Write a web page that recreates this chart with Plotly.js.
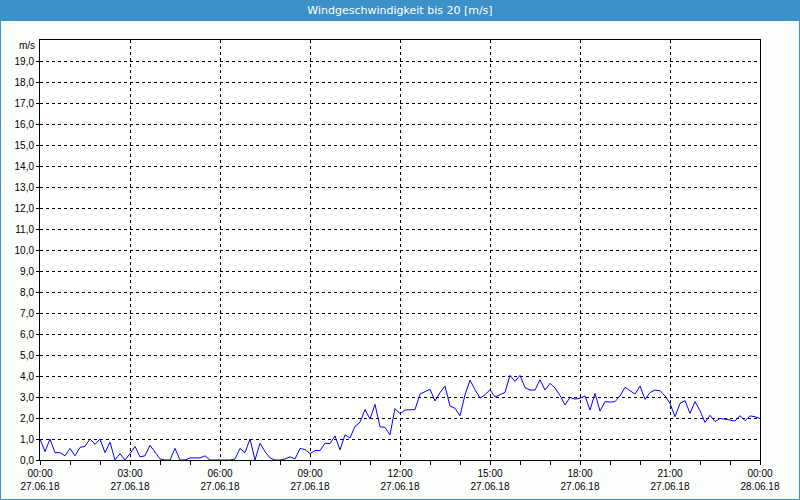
<!DOCTYPE html>
<html><head><meta charset="utf-8">
<script src="https://cdn.plot.ly/plotly-3.0.1.min.js"></script>
<style>html,body{margin:0;padding:0;background:#fcfefc}#chart{width:800px;height:500px}</style>
</head><body><div id="chart"></div>
<script>
// 10-minute wind speed samples, 27.06.18 00:00 .. 28.06.18 00:00 (m/s)
const startTimeUTC = Date.UTC(2018, 5, 27, 0, 0);
const stepMinutes = 10;
const windSpeed = [
  1.0, 0.4, 1.0, 0.35, 0.35, 0.2, 0.55, 0.2, 0.6, 0.65, 1.0, 0.75, 1.0, 0.35, 0.85, 0.0, 0.3, 0.0,
  0.3, 0.65, 0.15, 0.2, 0.7, 0.4, 0.05, 0.0, 0.0, 0.55, 0.0, 0.0, 0.1, 0.1, 0.1, 0.2, 0.0, 0.0,
  0.0, 0.0, 0.0, 0.05, 0.55, 0.35, 1.0, 0.0, 0.8, 0.4, 0.1, 0.0, 0.0, 0.05, 0.15, 0.05, 0.55, 0.5,
  0.3, 0.45, 0.45, 0.8, 0.78, 1.15, 0.48, 1.2, 1.05, 1.6, 1.8, 2.4, 1.95, 2.65, 1.58, 1.55, 1.2, 2.45,
  2.2, 2.38, 2.4, 2.4, 3.14, 3.25, 3.37, 2.81, 3.21, 3.52, 2.57, 2.46, 2.11, 3.1, 3.8, 3.35, 2.95, 3.1,
  3.35, 3.0, 3.1, 3.22, 4.03, 3.74, 4.03, 3.45, 3.33, 3.33, 3.82, 3.33, 3.65, 3.43, 3.07, 2.62, 2.98, 2.9,
  2.94, 3.05, 2.38, 3.17, 2.33, 2.78, 2.76, 2.78, 3.05, 3.46, 3.3, 3.14, 3.52, 2.89, 3.21, 3.33, 3.3, 3.05,
  2.7, 2.06, 2.7, 2.83, 2.22, 2.78, 2.35, 1.79, 2.13, 1.83, 1.98, 1.95, 1.9, 1.86, 2.11, 1.87, 2.1, 2.06, 1.98
];
const xTickVals = ['2018-06-27 00:00','2018-06-27 03:00','2018-06-27 06:00','2018-06-27 09:00','2018-06-27 12:00',
                   '2018-06-27 15:00','2018-06-27 18:00','2018-06-27 21:00','2018-06-28 00:00'];
const xTickText = ['00:00<br>27.06.18','03:00<br>27.06.18','06:00<br>27.06.18','09:00<br>27.06.18','12:00<br>27.06.18',
                   '15:00<br>27.06.18','18:00<br>27.06.18','21:00<br>27.06.18','00:00<br>28.06.18'];
const yTickVals = [0,1,2,3,4,5,6,7,8,9,10,11,12,13,14,15,16,17,18,19];
const yTickText = yTickVals.map(v => v.toFixed(1).replace('.', ','));
const chartTitle = 'Windgeschwindigkeit bis 20 [m/s]';
const unitLabel = 'm/s';

function fmt(ms) { return new Date(ms).toISOString().slice(0, 16).replace('T', ' '); }
const times = windSpeed.map((_, i) => fmt(startTimeUTC + i * stepMinutes * 60000));

const font = {family: 'Liberation Sans, Arial, sans-serif', size: 10, color: '#000'};
const blue = '#3c91c8';

const trace = {x: times, y: windSpeed, type: 'scatter', mode: 'lines',
  line: {color: '#0000ff', width: 1}, hoverinfo: 'x+y'};

const layout = {
  width: 800, height: 500,
  margin: {l: 40, r: 40, t: 40, b: 40, pad: 0},
  paper_bgcolor: '#fcfefc', plot_bgcolor: '#ffffff',
  font: font, showlegend: false,
  title: {text: chartTitle, font: {family: 'DejaVu Sans, sans-serif', size: 11, color: '#ffffff'},
    x: 0.5, xanchor: 'center', y: 0.979, yanchor: 'middle', yref: 'container'},
  xaxis: {type: 'date', range: ['2018-06-27 00:00', '2018-06-28 00:00'],
    tickmode: 'array', tickvals: xTickVals, ticktext: xTickText,
    ticks: 'outside', ticklen: 4, tickcolor: '#000', tickfont: font,
    showgrid: true, gridcolor: '#000', gridwidth: 1, griddash: '3px,3px',
    minor: {dtick: 3600000, ticks: 'outside', ticklen: 4, tickcolor: '#000', showgrid: false},
    showline: true, linecolor: '#000', linewidth: 1, mirror: true, zeroline: false, fixedrange: true},
  yaxis: {range: [0, 20], tickmode: 'array', tickvals: yTickVals, ticktext: yTickText,
    ticks: 'outside', ticklen: 3, tickcolor: '#000', tickfont: font,
    showgrid: true, gridcolor: '#000', gridwidth: 1, griddash: '3px,3px',
    showline: true, linecolor: '#000', linewidth: 1, mirror: true, zeroline: false, fixedrange: true},
  shapes: [
    {type: 'rect', xref: 'paper', yref: 'paper', layer: 'below',
     x0: -40/720, x1: 1 + 40/720, y0: 1 + 19/420, y1: 1 + 40/420,
     fillcolor: blue, line: {width: 0}},
    {type: 'rect', xref: 'paper', yref: 'paper', layer: 'above',
     x0: (0.5 - 40)/720, x1: (799.5 - 40)/720, y0: 1 - 459.5/420, y1: 1 + 39.5/420,
     fillcolor: 'rgba(0,0,0,0)', line: {color: blue, width: 1}}
  ],
  annotations: [
    {text: unitLabel, xref: 'paper', x: 0, xanchor: 'right', xshift: -3,
     yref: 'y', y: 20, yanchor: 'middle', yshift: -5, showarrow: false, font: font}
  ]
};
Plotly.newPlot('chart', [trace], layout, {displayModeBar: false, staticPlot: true});
</script></body></html>
